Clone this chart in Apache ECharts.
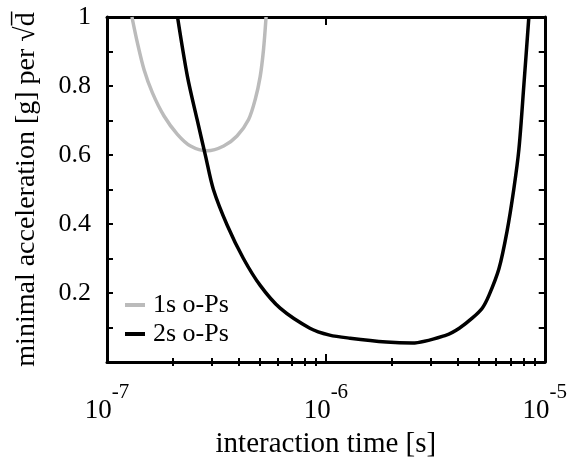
<!DOCTYPE html>
<html>
<head>
<meta charset="utf-8">
<script src="https://cdn.jsdelivr.net/npm/echarts@6/dist/echarts.min.js"></script>
<style>html,body{margin:0;padding:0;background:#fff;}#c{width:570px;height:464px;}</style>
</head>
<body>
<div id="c"></div>
<script>
const seriesNames = ['1s o-Ps', '2s o-Ps'];
const timeGray = [1.30e-7, 1.378e-7, 1.477e-7, 1.613e-7, 1.822e-7, 2.097e-7, 2.408e-7, 2.869e-7, 3.413e-7, 3.926e-7, 4.435e-7, 4.755e-7, 5.012e-7, 5.188e-7, 5.33e-7];
const accGray  = [1.0, 0.924, 0.847, 0.780, 0.713, 0.660, 0.626, 0.612, 0.626, 0.655, 0.703, 0.761, 0.828, 0.905, 1.0];
const timeBlack = [2.10e-7, 2.33e-7, 2.58e-7, 2.82e-7, 3.06e-7, 3.55e-7, 4.20e-7, 5.01e-7, 6.18e-7, 8.45e-7, 1.04e-6, 1.29e-6, 1.89e-6, 2.48e-6, 3.55e-6, 4.07e-6, 4.66e-6, 5.18e-6, 5.56e-6, 6.18e-6, 6.72e-6, 7.22e-6, 7.62e-6, 8.03e-6, 8.46e-6];
const accBlack  = [1.0, 0.828, 0.703, 0.597, 0.501, 0.395, 0.300, 0.222, 0.156, 0.098, 0.078, 0.069, 0.058, 0.055, 0.078, 0.098, 0.127, 0.156, 0.193, 0.271, 0.378, 0.501, 0.617, 0.804, 1.0];
const xMajorTicks = [1e-7, 1e-6, 1e-5];
const xMinorTicks = [2e-7,3e-7,4e-7,5e-7,6e-7,7e-7,8e-7,9e-7,2e-6,3e-6,4e-6,5e-6,6e-6,7e-6,8e-6,9e-6];
const yLabels = [0.2, 0.4, 0.6, 0.8, 1];

const FONT = 'Liberation Serif';
const zip = (a, b) => a.map((v, i) => [v, b[i]]);

const baseX = {
  type: 'log', logBase: 10, min: 1e-7, max: 1e-5,
  splitLine: { show: false }, minorTick: { show: false }, minorSplitLine: { show: false }
};
const chart = echarts.init(document.getElementById('c'), null, { renderer: 'canvas' });
chart.setOption({
  animation: false,
  backgroundColor: '#fff',
  grid: { left: 107, right: 24, top: 17, bottom: 100, containLabel: false },
  legend: {
    orient: 'vertical', left: 125, top: 292, padding: 0, itemGap: 3,
    icon: 'rect', itemWidth: 20, itemHeight: 4,
    textStyle: { fontFamily: FONT, fontSize: 26, color: '#000', lineHeight: 26, padding: [0, 0, 0, 3] },
    data: seriesNames
  },
  xAxis: [
    Object.assign({}, baseX, {
      position: 'bottom',
      name: 'interaction time [s]', nameLocation: 'middle', nameGap: 68,
      nameTextStyle: { fontFamily: FONT, fontSize: 29, color: '#000' },
      axisLine: { show: true, onZero: false, lineStyle: { color: '#000', width: 3 } },
      axisTick: { show: true, inside: true, length: 8, lineStyle: { color: '#000', width: 2 }, customValues: xMajorTicks },
      axisLabel: {
        margin: 35, customValues: xMajorTicks,
        formatter: v => '{b|10}{s|' + Math.round(Math.log10(v)) + '}',
        rich: {
          b: { fontFamily: FONT, fontSize: 27, color: '#000', lineHeight: 27, verticalAlign: 'bottom' },
          s: { fontFamily: FONT, fontSize: 21, color: '#000', lineHeight: 21, padding: [0, 0, 21, 0], verticalAlign: 'bottom' }
        }
      }
    }),
    Object.assign({}, baseX, {
      position: 'bottom',
      axisLine: { show: false },
      axisTick: { show: true, inside: true, length: 4, lineStyle: { color: '#000', width: 2 }, customValues: xMinorTicks },
      axisLabel: { show: false }
    }),
    Object.assign({}, baseX, {
      position: 'top',
      axisLine: { show: true, onZero: false, lineStyle: { color: '#000', width: 3 } },
      axisTick: { show: true, inside: true, length: 8, lineStyle: { color: '#000', width: 2 }, customValues: xMajorTicks },
      axisLabel: { show: false }
    }),
    Object.assign({}, baseX, {
      position: 'top',
      axisLine: { show: false },
      axisTick: { show: true, inside: true, length: 4, lineStyle: { color: '#000', width: 2 }, customValues: xMinorTicks },
      axisLabel: { show: false }
    })
  ],
  yAxis: [
    {
      type: 'value', min: 0, max: 1, interval: 0.1, position: 'left',
      name: 'minimal acceleration [g] per \u221Ad\u0305', nameLocation: 'middle', nameGap: 66, nameRotate: 90,
      nameTextStyle: { fontFamily: FONT, fontSize: 28, color: '#000' },
      splitLine: { show: false },
      axisLine: { show: true, onZero: false, lineStyle: { color: '#000', width: 3 } },
      axisTick: { show: true, inside: true, length: 6, lineStyle: { color: '#000', width: 2 } },
      axisLabel: {
        margin: 16, fontFamily: FONT, fontSize: 26, color: '#000',
        formatter: v => {
          const r = Math.round(v * 10) / 10;
          return yLabels.indexOf(r) >= 0 ? (r === 1 ? '1' : r.toFixed(1)) : '';
        }
      }
    },
    {
      type: 'value', min: 0, max: 1, interval: 0.1, position: 'right',
      splitLine: { show: false },
      axisLine: { show: true, onZero: false, lineStyle: { color: '#000', width: 3 } },
      axisTick: { show: true, inside: true, length: 6, lineStyle: { color: '#000', width: 2 } },
      axisLabel: { show: false }
    }
  ],
  series: [
    {
      name: seriesNames[0], type: 'line', xAxisIndex: 0, yAxisIndex: 0,
      data: zip(timeGray, accGray), showSymbol: false, symbol: 'none', smooth: 0.3,
      lineStyle: { color: '#bbbbbb', width: 3.5 }, itemStyle: { color: '#bbbbbb' }, clip: true
    },
    {
      name: seriesNames[1], type: 'line', xAxisIndex: 0, yAxisIndex: 0,
      data: zip(timeBlack, accBlack), showSymbol: false, symbol: 'none', smooth: 0.3,
      lineStyle: { color: '#000', width: 3.5 }, itemStyle: { color: '#000' }, clip: true
    }
  ]
});
</script>
</body>
</html>
